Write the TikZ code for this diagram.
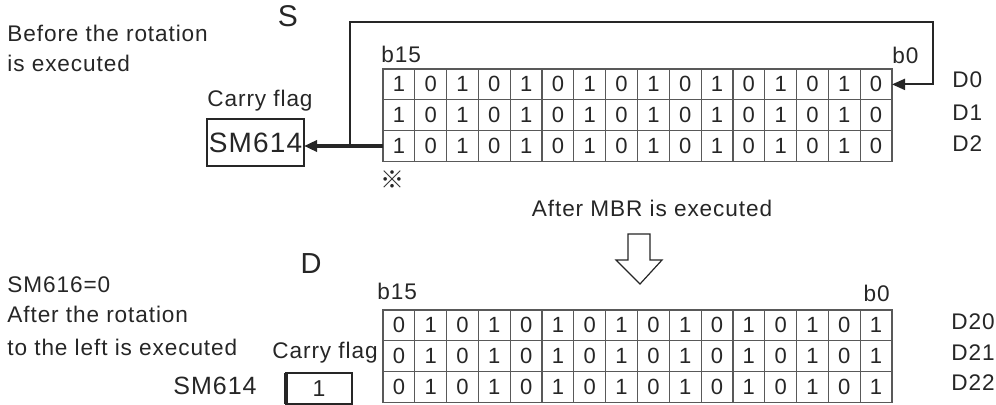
\documentclass[tikz,border=0pt]{standalone}
\usepackage{fontspec}
\setmainfont{Liberation Sans}[LetterSpace=4]
\newfontfamily\markfont{Noto Sans CJK SC}
\usetikzlibrary{arrows.meta}

\begin{document}
\begin{tikzpicture}[x = 0.5pt, y = -0.5pt,
	txt/.style = {inner sep = 0, text = black!85, font = \fontsize{11.3}{13}\selectfont},
	bitcell/.style = {draw = black!65, line width = 0.6pt, minimum width = 15.9pt, minimum height = 15.4pt, inner sep = 0, outer sep = 0, text = black!85, font = \fontsize{11}{13}\selectfont},
	flagbox/.style = {draw = black!85, line width = 1pt, inner sep = 0, outer sep = 0, text = black!85},
	tip/.style = {-{Triangle[length = 6.5pt, width = 5.5pt]}}]
	\useasboundingbox (0,0) rectangle (996,405);
	\foreach \c in {1,...,16}{
	\pgfmathtruncatemacro\bit{mod(\c,2)}
	\pgfmathtruncatemacro\tib{1-mod(\c,2)}
	\foreach \r in {1,2,3}{
	\node [bitcell] (s\r-\c) at ({383+31.8125*(\c-0.5)}, {84.4+30.8*(\r-1)}) {\bit};
	\node [bitcell] (d\r-\c) at ({383+31.8125*(\c-0.5)}, {325.4+30.8*(\r-1)}) {\tib};
	}
	}
	\node [txt, anchor = base west] (before) at (7,42) {Before the rotation};
	\node [txt, anchor = base west] (beforeb) at (7,72) {is executed};
	\node [txt, anchor = base, font = \fontsize{15}{18}\selectfont] (slbl) at (288,27) {S};
	\node [txt, anchor = base west] (carry) at (207,107) {Carry flag};
	\node [flagbox, minimum width = 48.5pt, minimum height = 23.5pt, font = \fontsize{14}{16}\selectfont] (sm) at (255.5,142.5) {SM614};
	\node [txt, anchor = base west] (sb15) at (381,63) {b15};
	\node [txt, anchor = base west] (sb0) at (892,64) {b0};
	\foreach \n/\y in {0/88,1/121,2/152}{
	\node [txt, anchor = base west] (sd\n) at (952,\y) {D\n};
	}
	\coordinate (jn) at (350,145);
	\coordinate (tr) at (933,22);
	\draw [tip, line width = 2.4pt, black!85] (s3-1.west) -- (s3-1.west -| sm.east);
	\draw [tip, line width = 1pt, black!85] (s3-1.west -| jn) |- (tr) |- (s1-16.east);
	\node [inner sep = 0, text = black!85, font = \markfont\fontsize{12}{14}\selectfont] (note) at (392,180) {※};
	\node [txt, anchor = base] (mbr) at (652,217) {After MBR is executed};
	\draw [line width = 0.6pt, black!85, fill = white] (628,234) -- (650,234) -- (650,260) -- (662,260) -- (640,284) -- (616,260) -- (628,260) -- cycle;
	\node [txt, anchor = base, font = \fontsize{14.5}{17}\selectfont] (dlbl) at (311,274) {D};
	\node [txt, anchor = base west] (sm616) at (7,293) {SM616=0};
	\node [txt, anchor = base west] (after) at (7,323) {After the rotation};
	\node [txt, anchor = base west] (afterb) at (7,356) {to the left is executed};
	\node [txt, anchor = base east] (dcarry) at (378,359) {Carry flag};
	\node [txt, anchor = base west, font = \fontsize{12.5}{15}\selectfont] (dsm) at (173,395) {SM614};
	\node [flagbox, minimum width = 33pt, minimum height = 15.5pt, font = \fontsize{11.5}{13}\selectfont] (flag) at (319,388.5) {1};
	\draw [line width = 2pt, black!85] (flag.north west) -- (flag.south west);
	\node [txt, anchor = base west] (db15) at (377,300) {b15};
	\node [txt, anchor = base east] (db0) at (890,302) {b0};
	\foreach \n/\y in {20/330,21/361,22/391}{
	\node [txt, anchor = base west] (dd\n) at (951,\y) {D\n};
	}
\end{tikzpicture}
\end{document}
